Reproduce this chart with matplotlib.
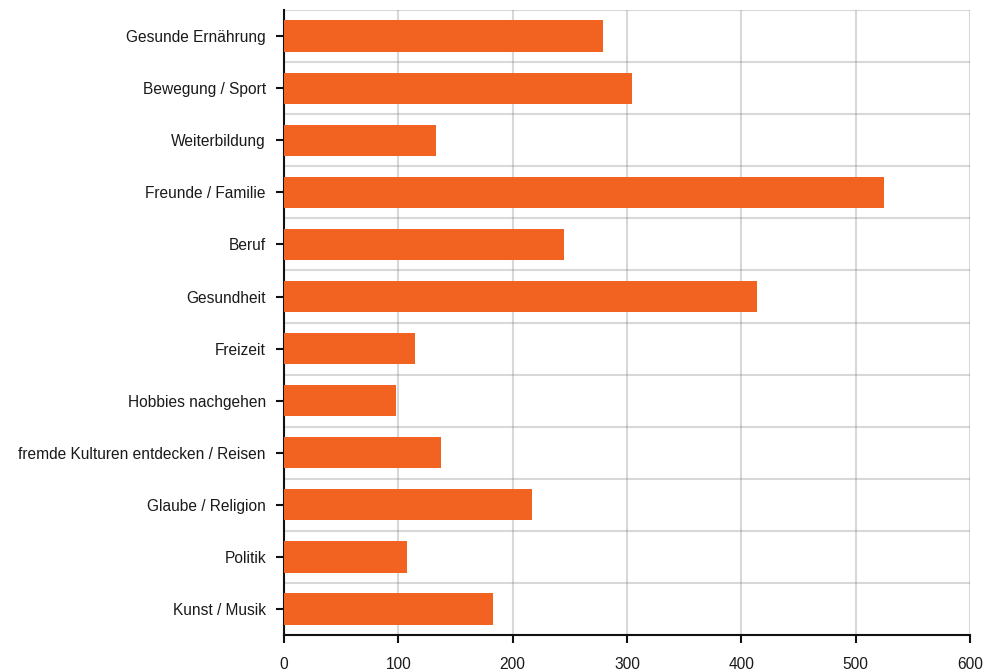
import numpy as np
import matplotlib
matplotlib.use("Agg")
import matplotlib.pyplot as plt

# Daten (von oben nach unten)
categories = [
    "Gesunde Ernährung",
    "Bewegung / Sport",
    "Weiterbildung",
    "Freunde / Familie",
    "Beruf",
    "Gesundheit",
    "Freizeit",
    "Hobbies nachgehen",
    "fremde Kulturen entdecken / Reisen",
    "Glaube / Religion",
    "Politik",
    "Kunst / Musik",
]
values = [279, 304, 133, 525, 245, 414, 115, 98, 137, 217, 108, 183]
x_ticks = [0, 100, 200, 300, 400, 500, 600]

bar_color = "#f26322"

plt.rcParams["font.family"] = ["Liberation Sans", "DejaVu Sans"]

fig = plt.figure(figsize=(10, 6.72), dpi=100)
ax = fig.add_axes([0.284, 0.055, 0.686, 0.93])

pos = np.arange(len(categories))[::-1]
ax.barh(pos, values, height=0.6, color=bar_color, zorder=3)

ax.set_xlim(0, 600)
ax.set_ylim(-0.5, len(categories) - 0.5)
ax.set_xticks(x_ticks)
ax.set_yticks(pos)
ax.set_yticklabels(categories)

# Gitter: senkrecht an den x-Ticks, waagerecht zwischen den Kategorien
ax.set_yticks(np.arange(-0.5, len(categories), 1), minor=True)
ax.grid(axis="x", which="major", color="#808080", alpha=0.3, linewidth=1.5, zorder=0)
ax.grid(axis="y", which="minor", color="#808080", alpha=0.3, linewidth=1.5, zorder=0)
ax.tick_params(axis="y", which="minor", length=0)

for side in ("top", "right"):
    ax.spines[side].set_visible(False)
for side in ("left", "bottom"):
    ax.spines[side].set_linewidth(1.5)
    ax.spines[side].set_color("#111111")

ax.tick_params(axis="both", which="major", length=6, width=1.5, color="#111111",
               labelsize=11.2, labelcolor="#1a1a1a")
ax.tick_params(axis="y", which="major", pad=7)
ax.tick_params(axis="x", which="major", pad=10)

fig.savefig("out.png", dpi=100)
